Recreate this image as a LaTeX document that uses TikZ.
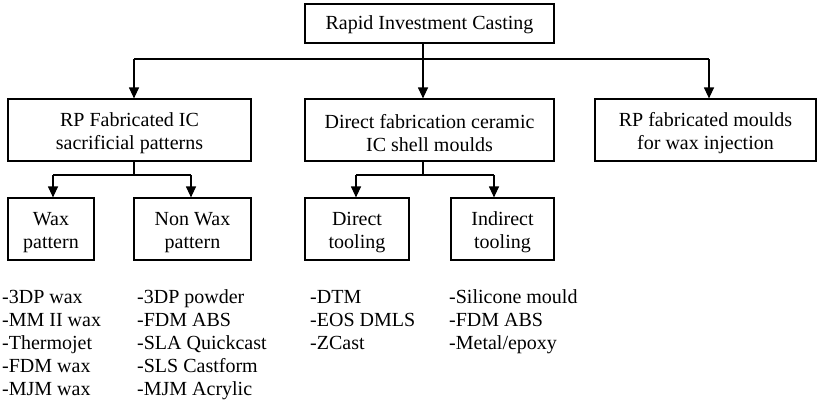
\documentclass[tikz,border=0pt]{standalone}
\usepackage{fontspec}
\setmainfont{Liberation Serif}
\usetikzlibrary{arrows.meta}
\newcommand{\firstln}{\rule{0pt}{20pt}}
\begin{document}
\begin{tikzpicture}[x=1pt,y=-1pt,
 txt/.style={font=\fontsize{20}{23}\selectfont},
 box/.style={txt, draw, line width=1.2pt, inner sep=0pt, align=center},
 conn/.style={line width=1.2pt},
 arr/.style={conn, -{Triangle[width=10pt,length=11pt]}},
 list/.style={txt, inner sep=0pt, align=left, anchor=north west}]
\path[use as bounding box] (0,0) rectangle (819,402);
\node[box, minimum width=249pt, minimum height=39pt] (top) at (429.5,23.5) {\rule{0pt}{17pt}Rapid Investment Casting};
\node[box, minimum width=243pt, minimum height=62pt] (rp) at (129.5,130) {\firstln RP Fabricated IC\\sacrificial patterns};
\node[box, minimum width=249pt, minimum height=62pt] (dir) at (429.5,130) {\firstln Direct fabrication ceramic\\IC shell moulds};
\node[box, minimum width=221pt, minimum height=62pt] (mould) at (705.5,130) {\firstln RP fabricated moulds\\for wax injection};
\node[box, minimum width=86pt, minimum height=62pt] (wax) at (51,229) {\firstln Wax\\pattern};
\node[box, minimum width=117pt, minimum height=62pt] (nonwax) at (192.5,229) {\firstln Non Wax\\pattern};
\node[box, minimum width=104pt, minimum height=62pt] (dtool) at (357,229) {\firstln Direct\\tooling};
\node[box, minimum width=103pt, minimum height=62pt] (itool) at (502.5,229) {\firstln Indirect\\tooling};
% top bus
\coordinate (j0) at (423,59);
\coordinate (jl) at (134,59);
\coordinate (jr) at (709,59);
\draw[conn] (top.south -| j0) -- (j0);
\draw[conn] (jl) -- (jr);
\draw[arr] (jl) -- (jl |- rp.north);
\draw[arr] (j0) -- (j0 |- dir.north);
\draw[arr] (jr) -- (jr |- mould.north);
% left bus
\coordinate (k1) at (134,175);
\coordinate (k1a) at (53,175);
\coordinate (k1b) at (191,175);
\draw[conn] (rp.south -| k1) -- (k1);
\draw[conn] (k1a) -- (k1b);
\draw[arr] (k1a) -- (k1a |- wax.north);
\draw[arr] (k1b) -- (k1b |- nonwax.north);
% middle bus
\coordinate (k2) at (423,175);
\coordinate (k2a) at (356,175);
\coordinate (k2b) at (494,175);
\draw[conn] (dir.south -| k2) -- (k2);
\draw[conn] (k2a) -- (k2b);
\draw[arr] (k2a) -- (k2a |- dtool.north);
\draw[arr] (k2b) -- (k2b |- itool.north);
% lists
\node[list] (l1) at (2,287) {\strut-3DP wax\\-MM II wax\\-Thermojet\\-FDM wax\\-MJM wax};
\node[list] (l2) at (137,287) {\strut-3DP powder\\-FDM ABS\\-SLA Quickcast\\-SLS Castform\\-MJM Acrylic};
\node[list] (l3) at (310,287) {\strut-DTM\\-EOS DMLS\\-ZCast};
\node[list] (l4) at (449,287) {\strut-Silicone mould\\-FDM ABS\\-Metal/epoxy};
\end{tikzpicture}
\end{document}
